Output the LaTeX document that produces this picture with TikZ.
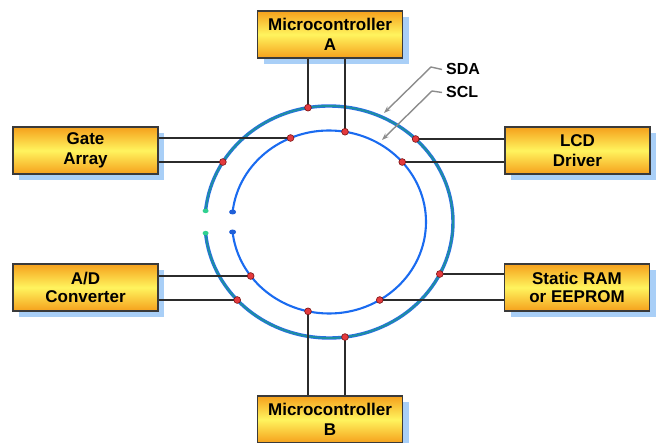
\documentclass[tikz,border=0pt]{standalone}
\usepackage{fontspec}
\setmainfont{Liberation Sans}
\usetikzlibrary{shadows,arrows.meta,shapes.geometric}

\definecolor{boxorange}{HTML}{F5A01C}
\definecolor{boxyellow}{HTML}{FFF45E}
\definecolor{boxedge}{HTML}{3A3A3A}
\definecolor{shadowblue}{HTML}{A9CFF7}
\definecolor{wirecol}{HTML}{2B2B2B}
\definecolor{dotred}{HTML}{E43A3E}
\definecolor{dotedge}{HTML}{7A1414}
\definecolor{sclblue}{HTML}{1A6BF0}
\definecolor{sdablue}{HTML}{2A6BE8}
\definecolor{sdateal}{HTML}{1D8FA2}
\definecolor{endteal}{HTML}{30D090}
\definecolor{endblue}{HTML}{1F5FD8}
\definecolor{leadgray}{HTML}{8C8C8C}

\tikzset{
  device/.style={draw=boxedge, line width=1.2pt, inner sep=0pt,
    minimum width=145pt, minimum height=47pt, align=center,
    top color=boxorange, bottom color=boxorange, middle color=boxyellow,
    general shadow={fill=shadowblue, shadow xshift=6pt, shadow yshift=-6pt},
    font=\fontsize{17}{20.5}\selectfont\bfseries},
  tightdevice/.style={device, font=\fontsize{17}{18.5}\selectfont\bfseries},
  wire/.style={draw=wirecol, line width=1.8pt},
  tap/.style={circle, fill=dotred, draw=dotedge, line width=0.6pt,
    inner sep=0pt, minimum size=6.8pt},
  sclring/.style={draw=sclblue, line width=2.1pt},
  sdaunder/.style={draw=sdablue, line width=3.4pt},
  sdaover/.style={draw=sdateal, line width=1.9pt},
  sdaend/.style={ellipse, fill=endteal, inner sep=0pt, minimum width=6pt, minimum height=4.5pt},
  sclend/.style={ellipse, fill=endblue, inner sep=0pt, minimum width=7pt, minimum height=5pt},
  busname/.style={inner sep=0pt, font=\fontsize{16}{18}\selectfont\bfseries},
  leader/.style={draw=leadgray, line width=1.4pt, -{Stealth[length=7pt,width=5pt]}},
}

\begin{document}
\begin{tikzpicture}[x=1pt, y=-1pt]
\useasboundingbox (0,0) rectangle (659,443);

% bus rings: SDA outside, SCL inside, both open on the left
\draw[sdaunder] (329,222) ++(185.5:124 and 116) arc[start angle=185.5, end angle=534.5, x radius=124, y radius=116];
\draw[sdaover]  (329,222) ++(185.5:124 and 116) arc[start angle=185.5, end angle=534.5, x radius=124, y radius=116];
\draw[sclring]  (329,222) ++(186.3:97 and 91.5) arc[start angle=186.3, end angle=533.7, x radius=97, y radius=91.5];

% open ends of the rings
\node[sdaend] (sdaendA) at (205.6,210.9) {};
\node[sdaend] (sdaendB) at (205.6,233.1) {};
\node[sclend] (sclendA) at (232.6,212.0) {};
\node[sclend] (sclendB) at (232.6,232.0) {};

% devices
\node[device] (mA)   at (330,34.5)  {Microcontroller\\A};
\node[device] (gate) at (85.5,150.5) {Gate\\Array};
\node[device] (lcd)  at (577.5,150.5) {LCD\\Driver};
\node[tightdevice] (adc)  at (85.5,287.5) {A/D\\Converter};
\node[tightdevice] (sram) at (577,287.5) {Static RAM\\or EEPROM};
\node[device] (mB)   at (330,419.5) {Microcontroller\\B};

% tap points on the rings
\coordinate (tA1) at (308,{222-116*sqrt(1-(21/124)^2)});
\coordinate (tA2) at (345,{222-91.5*sqrt(1-(16/97)^2)});
\coordinate (tG1) at ({329-97*sqrt(1-(84/91.5)^2)},138);
\coordinate (tG2) at ({329-124*sqrt(1-(60/116)^2)},162);
\coordinate (tL1) at ({329+124*sqrt(1-(83/116)^2)},139);
\coordinate (tL2) at ({329+97*sqrt(1-(60/91.5)^2)},162);
\coordinate (tD1) at ({329-97*sqrt(1-(54/91.5)^2)},276);
\coordinate (tD2) at ({329-124*sqrt(1-(78/116)^2)},300);
\coordinate (tS1) at ({329+124*sqrt(1-(52/116)^2)},274);
\coordinate (tS2) at ({329+97*sqrt(1-(78/91.5)^2)},300);
\coordinate (tB1) at (308,{222+91.5*sqrt(1-(21/97)^2)});
\coordinate (tB2) at (345,{222+116*sqrt(1-(16/124)^2)});

% connections from devices to the bus
\draw[wire] (tA1 |- mA.south) -- (tA1);
\draw[wire] (tA2 |- mA.south) -- (tA2);
\draw[wire] (gate.east |- tG1) -- (tG1);
\draw[wire] (gate.east |- tG2) -- (tG2);
\draw[wire] (lcd.west |- tL1) -- (tL1);
\draw[wire] (lcd.west |- tL2) -- (tL2);
\draw[wire] (adc.east |- tD1) -- (tD1);
\draw[wire] (adc.east |- tD2) -- (tD2);
\draw[wire] (sram.west |- tS1) -- (tS1);
\draw[wire] (sram.west |- tS2) -- (tS2);
\draw[wire] (tB1 |- mB.north) -- (tB1);
\draw[wire] (tB2 |- mB.north) -- (tB2);

\foreach \t in {tA1,tA2,tG1,tG2,tL1,tL2,tD1,tD2,tS1,tS2,tB1,tB2}
  \node[tap] at (\t) {};

% bus labels
\node[busname, anchor=base west] (sda) at (446,75) {SDA};
\node[busname, anchor=base west] (scl) at (446,98) {SCL};
\coordinate (sdabend) at (431,67);
\coordinate (sdatip) at (384,113);
\coordinate (sclbend) at (432,91);
\coordinate (scltip) at (382,140);
\draw[leader] ([xshift=-4pt]sda.west) -- (sdabend) -- (sdatip);
\draw[leader] ([xshift=-4pt]scl.west) -- (sclbend) -- (scltip);
\end{tikzpicture}
\end{document}
